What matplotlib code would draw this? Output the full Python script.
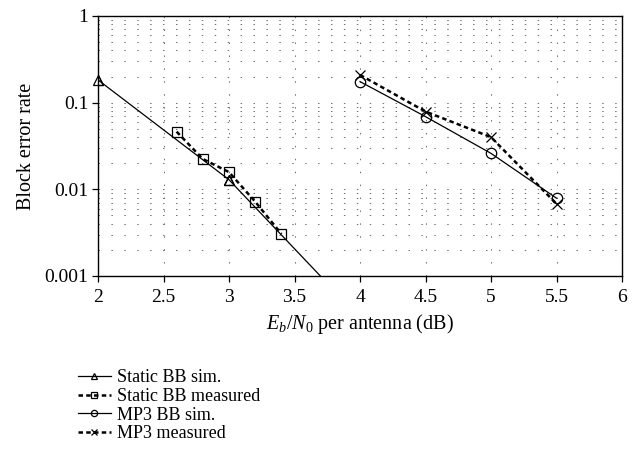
import numpy as np
import matplotlib
matplotlib.use("Agg")
import matplotlib.pyplot as plt
from matplotlib.ticker import LogLocator, NullFormatter

plt.rcParams["font.family"] = ["Liberation Serif", "DejaVu Serif"]
plt.rcParams["mathtext.fontset"] = "custom"
plt.rcParams["mathtext.rm"] = "Liberation Serif"
plt.rcParams["mathtext.it"] = "Liberation Serif:italic"

# data
static_sim_x = [2.0, 3.0, 4.0]
static_sim_y = [0.183, 0.0129, 0.00033]
static_meas_x = [2.6, 2.8, 3.0, 3.2, 3.4]
static_meas_y = [0.0463, 0.0224, 0.0158, 0.0072, 0.00306]
mp3_sim_x = [4.0, 4.5, 5.0, 5.5]
mp3_sim_y = [0.175, 0.069, 0.026, 0.0079]
mp3_meas_x = [4.0, 4.5, 5.0, 5.5]
mp3_meas_y = [0.209, 0.079, 0.040, 0.0068]
labels = ["Static BB sim.", "Static BB measured", "MP3 BB sim.", "MP3 measured"]

fig = plt.figure(figsize=(6.36, 4.53), dpi=100)
ax = fig.add_axes([98 / 636, 1 - 276 / 453, (622 - 98) / 636, (276 - 16) / 453])

dash = (0, (1.8, 1.3))
mk = dict(mfc="none", mec="k", mew=0.9)
h1, = ax.plot(static_sim_x, static_sim_y, "k-", lw=0.9, marker="^", ms=7.5, **mk)
h2, = ax.plot(static_meas_x, static_meas_y, color="k", ls=dash, lw=1.8, marker="s", ms=7.5, **mk)
h3, = ax.plot(mp3_sim_x, mp3_sim_y, "k-", lw=0.9, marker="o", ms=7.5, **mk)
h4, = ax.plot(mp3_meas_x, mp3_meas_y, color="k", ls=dash, lw=1.8, marker="x", ms=7.5, **mk)
# triangle sitting on the left spine should not be clipped
sx = np.array(static_sim_x)
sy = np.array(static_sim_y)
keep = sy >= 0.001
ax.plot(sx[keep], sy[keep], ls="none", marker="^", ms=7.5, clip_on=False, zorder=5, **mk)

ax.set_yscale("log")
ax.set_xlim(2, 6)
ax.set_ylim(0.001, 1)
ax.set_xticks(np.arange(2, 6.01, 0.5))
ax.set_xticklabels(["2", "2.5", "3", "3.5", "4", "4.5", "5", "5.5", "6"])
ax.set_yticks([0.001, 0.01, 0.1, 1])
ax.set_yticklabels(["0.001", "0.01", "0.1", "1"])
ax.yaxis.set_minor_locator(LogLocator(base=10, subs=np.arange(2, 10)))
ax.yaxis.set_minor_formatter(NullFormatter())
ax.tick_params(which="minor", length=0)
ax.tick_params(which="major", direction="out", length=4, width=0.9, labelsize=14, pad=3)
ax.tick_params(axis="x", pad=5)
grid_ls = (0, (1.4, 11.0))
ax.yaxis.grid(True, which="both", color="0.45", ls=grid_ls, lw=0.75)
ax.xaxis.grid(True, which="major", color="0.45", ls=grid_ls, lw=0.75)
for s in ax.spines.values():
    s.set_linewidth(1.0)

ax.set_ylabel("Block error rate", fontsize=14.5, labelpad=6)
ax.set_xlabel(r"$E_b/N_0$ per antenna (dB)", fontsize=14.5, labelpad=5)

fig.legend([h1, h2, h3, h4], labels, loc="upper left", bbox_to_anchor=(69 / 636, 1 - 360 / 453),
           frameon=False, fontsize=13, markerscale=0.6, handlelength=1.8, labelspacing=0.1,
           handletextpad=0.35, borderpad=0)

fig.savefig("out.png", dpi=100)
